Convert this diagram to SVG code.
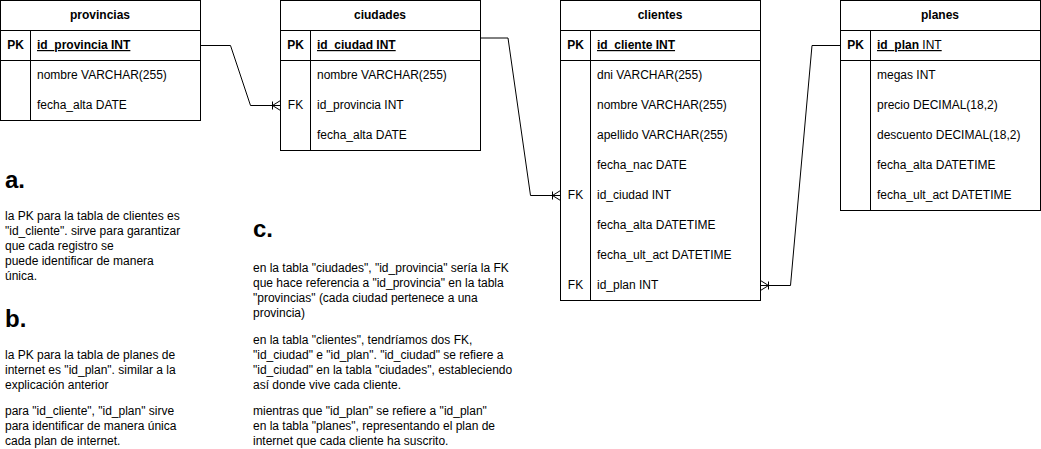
<svg xmlns="http://www.w3.org/2000/svg" width="1041" height="449" viewBox="0 0 1041 449">
<style>
text{font-family:"Liberation Sans",Arial,Helvetica,sans-serif;font-size:12px;fill:#000}
.box{fill:#fff;stroke:#000;stroke-width:1}
.ln{fill:none;stroke:#000;stroke-width:1}
.hd{font-weight:bold;text-anchor:middle}
.key{text-anchor:middle}
.kb{font-weight:bold;text-anchor:middle}
.pk{font-weight:bold;text-decoration:underline}
.h1{font-size:24px;font-weight:bold}
.edge{fill:none;stroke:#000;stroke-width:1}
</style>
<defs>
<marker id="erOneToMany" markerUnits="userSpaceOnUse" viewBox="0 0 12 12" markerWidth="12" markerHeight="12" refX="12" refY="6" orient="auto" overflow="visible">
<path d="M4,6 L12,1 M4,6 L12,11 M4,2 L4,10" fill="none" stroke="#000" stroke-width="1"/>
</marker>
</defs>

<g id="connectors">
<path class="edge" d="M200.5,45.5 L230.5,45.5 L250.5,105.5 L280.5,105.5" marker-end="url(#erOneToMany)"/>
<path class="edge" d="M480.5,38 L508,38 L530.5,195.5 L560.5,195.5" marker-end="url(#erOneToMany)"/>
<path class="edge" d="M840.5,45.5 L812,45.5 L790.5,285.5 L760.5,285.5" marker-end="url(#erOneToMany)"/>
</g>

<g id="provincias">
<rect class="box" x="0.5" y="0.5" width="200" height="120"/>
<path class="ln" d="M0.5,30.5 H200.5 M0.5,60.5 H200.5 M30.5,30.5 V120.5"/>
<text class="hd" x="100" y="19">provincias</text>
<text class="kb" x="15.5" y="49">PK</text>
<text class="pk" x="37" y="49">id_provincia INT</text>
<text x="37" y="79">nombre VARCHAR(255)</text>
<text x="37" y="109">fecha_alta DATE</text>
</g>

<g id="ciudades">
<rect class="box" x="280.5" y="0.5" width="200" height="150"/>
<path class="ln" d="M280.5,30.5 H480.5 M280.5,60.5 H480.5 M310.5,30.5 V150.5"/>
<text class="hd" x="380" y="19">ciudades</text>
<text class="kb" x="295.5" y="49">PK</text>
<text class="pk" x="317" y="49">id_ciudad INT</text>
<text x="317" y="79">nombre VARCHAR(255)</text>
<text class="key" x="295.5" y="109">FK</text>
<text x="317" y="109">id_provincia INT</text>
<text x="317" y="139">fecha_alta DATE</text>
</g>

<g id="clientes">
<rect class="box" x="560.5" y="0.5" width="200" height="300"/>
<path class="ln" d="M560.5,30.5 H760.5 M560.5,60.5 H760.5 M590.5,30.5 V300.5"/>
<text class="hd" x="660" y="19">clientes</text>
<text class="kb" x="575.5" y="49">PK</text>
<text class="pk" x="597" y="49">id_cliente INT</text>
<text x="597" y="79">dni VARCHAR(255)</text>
<text x="597" y="109">nombre VARCHAR(255)</text>
<text x="597" y="139">apellido VARCHAR(255)</text>
<text x="597" y="169">fecha_nac DATE</text>
<text class="key" x="575.5" y="199">FK</text>
<text x="597" y="199">id_ciudad INT</text>
<text x="597" y="229">fecha_alta DATETIME</text>
<text x="597" y="259">fecha_ult_act DATETIME</text>
<text class="key" x="575.5" y="289">FK</text>
<text x="597" y="289">id_plan INT</text>
</g>

<g id="planes">
<rect class="box" x="840.5" y="0.5" width="200" height="210"/>
<path class="ln" d="M840.5,30.5 H1040.5 M840.5,60.5 H1040.5 M870.5,30.5 V210.5"/>
<text class="hd" x="940" y="19">planes</text>
<text class="kb" x="855.5" y="49">PK</text>
<text x="877" y="49" text-decoration="underline"><tspan font-weight="bold">id_plan</tspan> INT</text>
<text x="877" y="79">megas INT</text>
<text x="877" y="109">precio DECIMAL(18,2)</text>
<text x="877" y="139">descuento DECIMAL(18,2)</text>
<text x="877" y="169">fecha_alta DATETIME</text>
<text x="877" y="199">fecha_ult_act DATETIME</text>
</g>

<g id="note-a">
<text class="h1" x="5" y="188">a.</text>
<text x="5" y="220">la PK para la tabla de clientes es</text>
<text x="5" y="235">"id_cliente". sirve para garantizar</text>
<text x="5" y="250">que cada registro se</text>
<text x="5" y="265">puede identificar de manera</text>
<text x="5" y="280">única.</text>
</g>

<g id="note-b">
<text class="h1" x="5" y="327">b.</text>
<text x="5" y="359">la PK para la tabla de planes de</text>
<text x="5" y="374">internet es "id_plan". similar a la</text>
<text x="5" y="389">explicación anterior</text>
<text x="5" y="415">para "id_cliente", "id_plan" sirve</text>
<text x="5" y="430">para identificar de manera única</text>
<text x="5" y="445">cada plan de internet.</text>
</g>

<g id="note-c">
<text class="h1" x="253" y="237">c.</text>
<text x="253" y="272">en la tabla "ciudades", "id_provincia" sería la FK</text>
<text x="253" y="287">que hace referencia a "id_provincia" en la tabla</text>
<text x="253" y="302">"provincias" (cada ciudad pertenece a una</text>
<text x="253" y="317">provincia)</text>
<text x="253" y="344">en la tabla "clientes", tendríamos dos FK,</text>
<text x="253" y="359">"id_ciudad" e "id_plan". "id_ciudad" se refiere a</text>
<text x="253" y="374">"id_ciudad" en la tabla "ciudades", estableciendo</text>
<text x="253" y="389">así donde vive cada cliente.</text>
<text x="253" y="415">mientras que "id_plan" se refiere a "id_plan"</text>
<text x="253" y="430">en la tabla "planes", representando el plan de</text>
<text x="253" y="445">internet que cada cliente ha suscrito.</text>
</g>
</svg>
